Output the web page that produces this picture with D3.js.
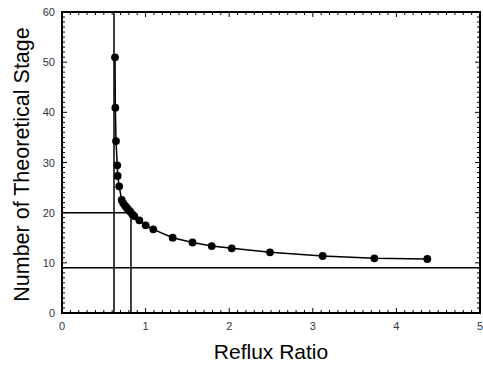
<!DOCTYPE html>
<html>
<head>
<meta charset="utf-8">
<script src="https://cdn.jsdelivr.net/npm/d3@7"></script>
<style>
  body { margin: 0; background: #fff; }
  text { font-family: "Liberation Sans", Arial, sans-serif; }
</style>
</head>
<body>
<div id="chart"></div>
<script>
// Reflux ratio vs number of stages
var refluxRatio = [0.634, 0.638, 0.646, 0.661, 0.666, 0.684, 0.714, 0.733, 0.754, 0.774, 0.793, 0.817, 0.841, 0.865, 0.925, 1.001, 1.092, 1.324, 1.561, 1.791, 2.030, 2.488, 3.118, 3.736, 4.370];
var stages = [50.97, 40.92, 34.28, 29.44, 27.31, 25.25, 22.52, 21.87, 21.39, 20.99, 20.59, 20.19, 19.67, 19.33, 18.48, 17.48, 16.68, 15.01, 14.05, 13.35, 12.90, 12.10, 11.36, 10.90, 10.76];

// guide lines: minimum reflux, operating reflux, stages at operating, minimum stages
var rMin = 0.622;
var rOp = 0.825;
var nOp = 20;
var nMin = 9;

var xTicks = [0, 1, 2, 3, 4, 5];
var yTicks = [0, 10, 20, 30, 40, 50, 60];

var width = 483, height = 365;
var margin = { left: 62, right: 3, top: 12, bottom: 52 };

var x = d3.scaleLinear().domain([0, 5]).range([margin.left, width - margin.right]);
var y = d3.scaleLinear().domain([0, 60]).range([height - margin.bottom, margin.top]);

var svg = d3.select("#chart").append("svg")
    .attr("width", width)
    .attr("height", height);

var x0 = x(0), x1 = x(5), y0 = y(0), y1 = y(60);

// minor + major ticks on all four sides (pointing inward)
var xMinor = d3.range(0, 51).map(function (i) { return i / 10; });
var yMinor = d3.range(0, 61);

var ticks = svg.append("g").attr("stroke", "#000").attr("stroke-width", 1);
xMinor.forEach(function (v) {
    var major = Math.abs(v - Math.round(v)) < 1e-9;
    var len = major ? 5 : 3;
    ticks.append("line").attr("x1", x(v)).attr("x2", x(v)).attr("y1", y0).attr("y2", y0 - len);
    ticks.append("line").attr("x1", x(v)).attr("x2", x(v)).attr("y1", y1).attr("y2", y1 + len);
});
yMinor.forEach(function (v) {
    var major = v % 10 === 0;
    var len = major ? 5 : 3;
    ticks.append("line").attr("x1", x0).attr("x2", x0 + len).attr("y1", y(v)).attr("y2", y(v));
    ticks.append("line").attr("x1", x1).attr("x2", x1 - len).attr("y1", y(v)).attr("y2", y(v));
});

// guide lines
var guides = svg.append("g").attr("stroke", "#000").attr("stroke-width", 1.5);
guides.append("line").attr("x1", x(rMin)).attr("x2", x(rMin)).attr("y1", y0).attr("y2", y1);
guides.append("line").attr("x1", x(rOp)).attr("x2", x(rOp)).attr("y1", y0).attr("y2", y(nOp));
guides.append("line").attr("x1", x0).attr("x2", x(rOp)).attr("y1", y(nOp)).attr("y2", y(nOp));
guides.append("line").attr("x1", x0).attr("x2", x1).attr("y1", y(nMin)).attr("y2", y(nMin));

// frame
svg.append("rect")
    .attr("x", x0).attr("y", y1)
    .attr("width", x1 - x0).attr("height", y0 - y1)
    .attr("fill", "none").attr("stroke", "#000").attr("stroke-width", 2);

// tick labels
svg.append("g").selectAll("text")
    .data(xTicks).enter().append("text")
    .attr("x", function (d) { return x(d); })
    .attr("y", y0 + 17)
    .attr("text-anchor", "middle")
    .attr("fill", "#333344")
    .style("font-size", "11px")
    .text(function (d) { return d; });

svg.append("g").selectAll("text")
    .data(yTicks).enter().append("text")
    .attr("x", x0 - 7)
    .attr("y", function (d) { return y(d) + 4; })
    .attr("text-anchor", "end")
    .attr("fill", "#333344")
    .style("font-size", "11px")
    .text(function (d) { return d; });

// data line and dots
var pts = refluxRatio.map(function (r, i) { return [r, stages[i]]; });
var line = d3.line()
    .x(function (d) { return x(d[0]); })
    .y(function (d) { return y(d[1]); });

svg.append("path")
    .datum(pts)
    .attr("d", line)
    .attr("fill", "none")
    .attr("stroke", "#000")
    .attr("stroke-width", 1.5);

svg.append("g").selectAll("circle")
    .data(pts).enter().append("circle")
    .attr("cx", function (d) { return x(d[0]); })
    .attr("cy", function (d) { return y(d[1]); })
    .attr("r", 3.9)
    .attr("fill", "#000");

// axis titles
svg.append("text")
    .attr("x", (x0 + x1) / 2)
    .attr("y", 359)
    .attr("text-anchor", "middle")
    .style("font-size", "21px")
    .text("Reflux Ratio");

svg.append("text")
    .attr("transform", "translate(29," + ((y0 + y1) / 2 + 2) + ") rotate(-90)")
    .attr("text-anchor", "middle")
    .style("font-size", "21.5px")
    .text("Number of Theoretical Stage");
</script>
</body>
</html>
